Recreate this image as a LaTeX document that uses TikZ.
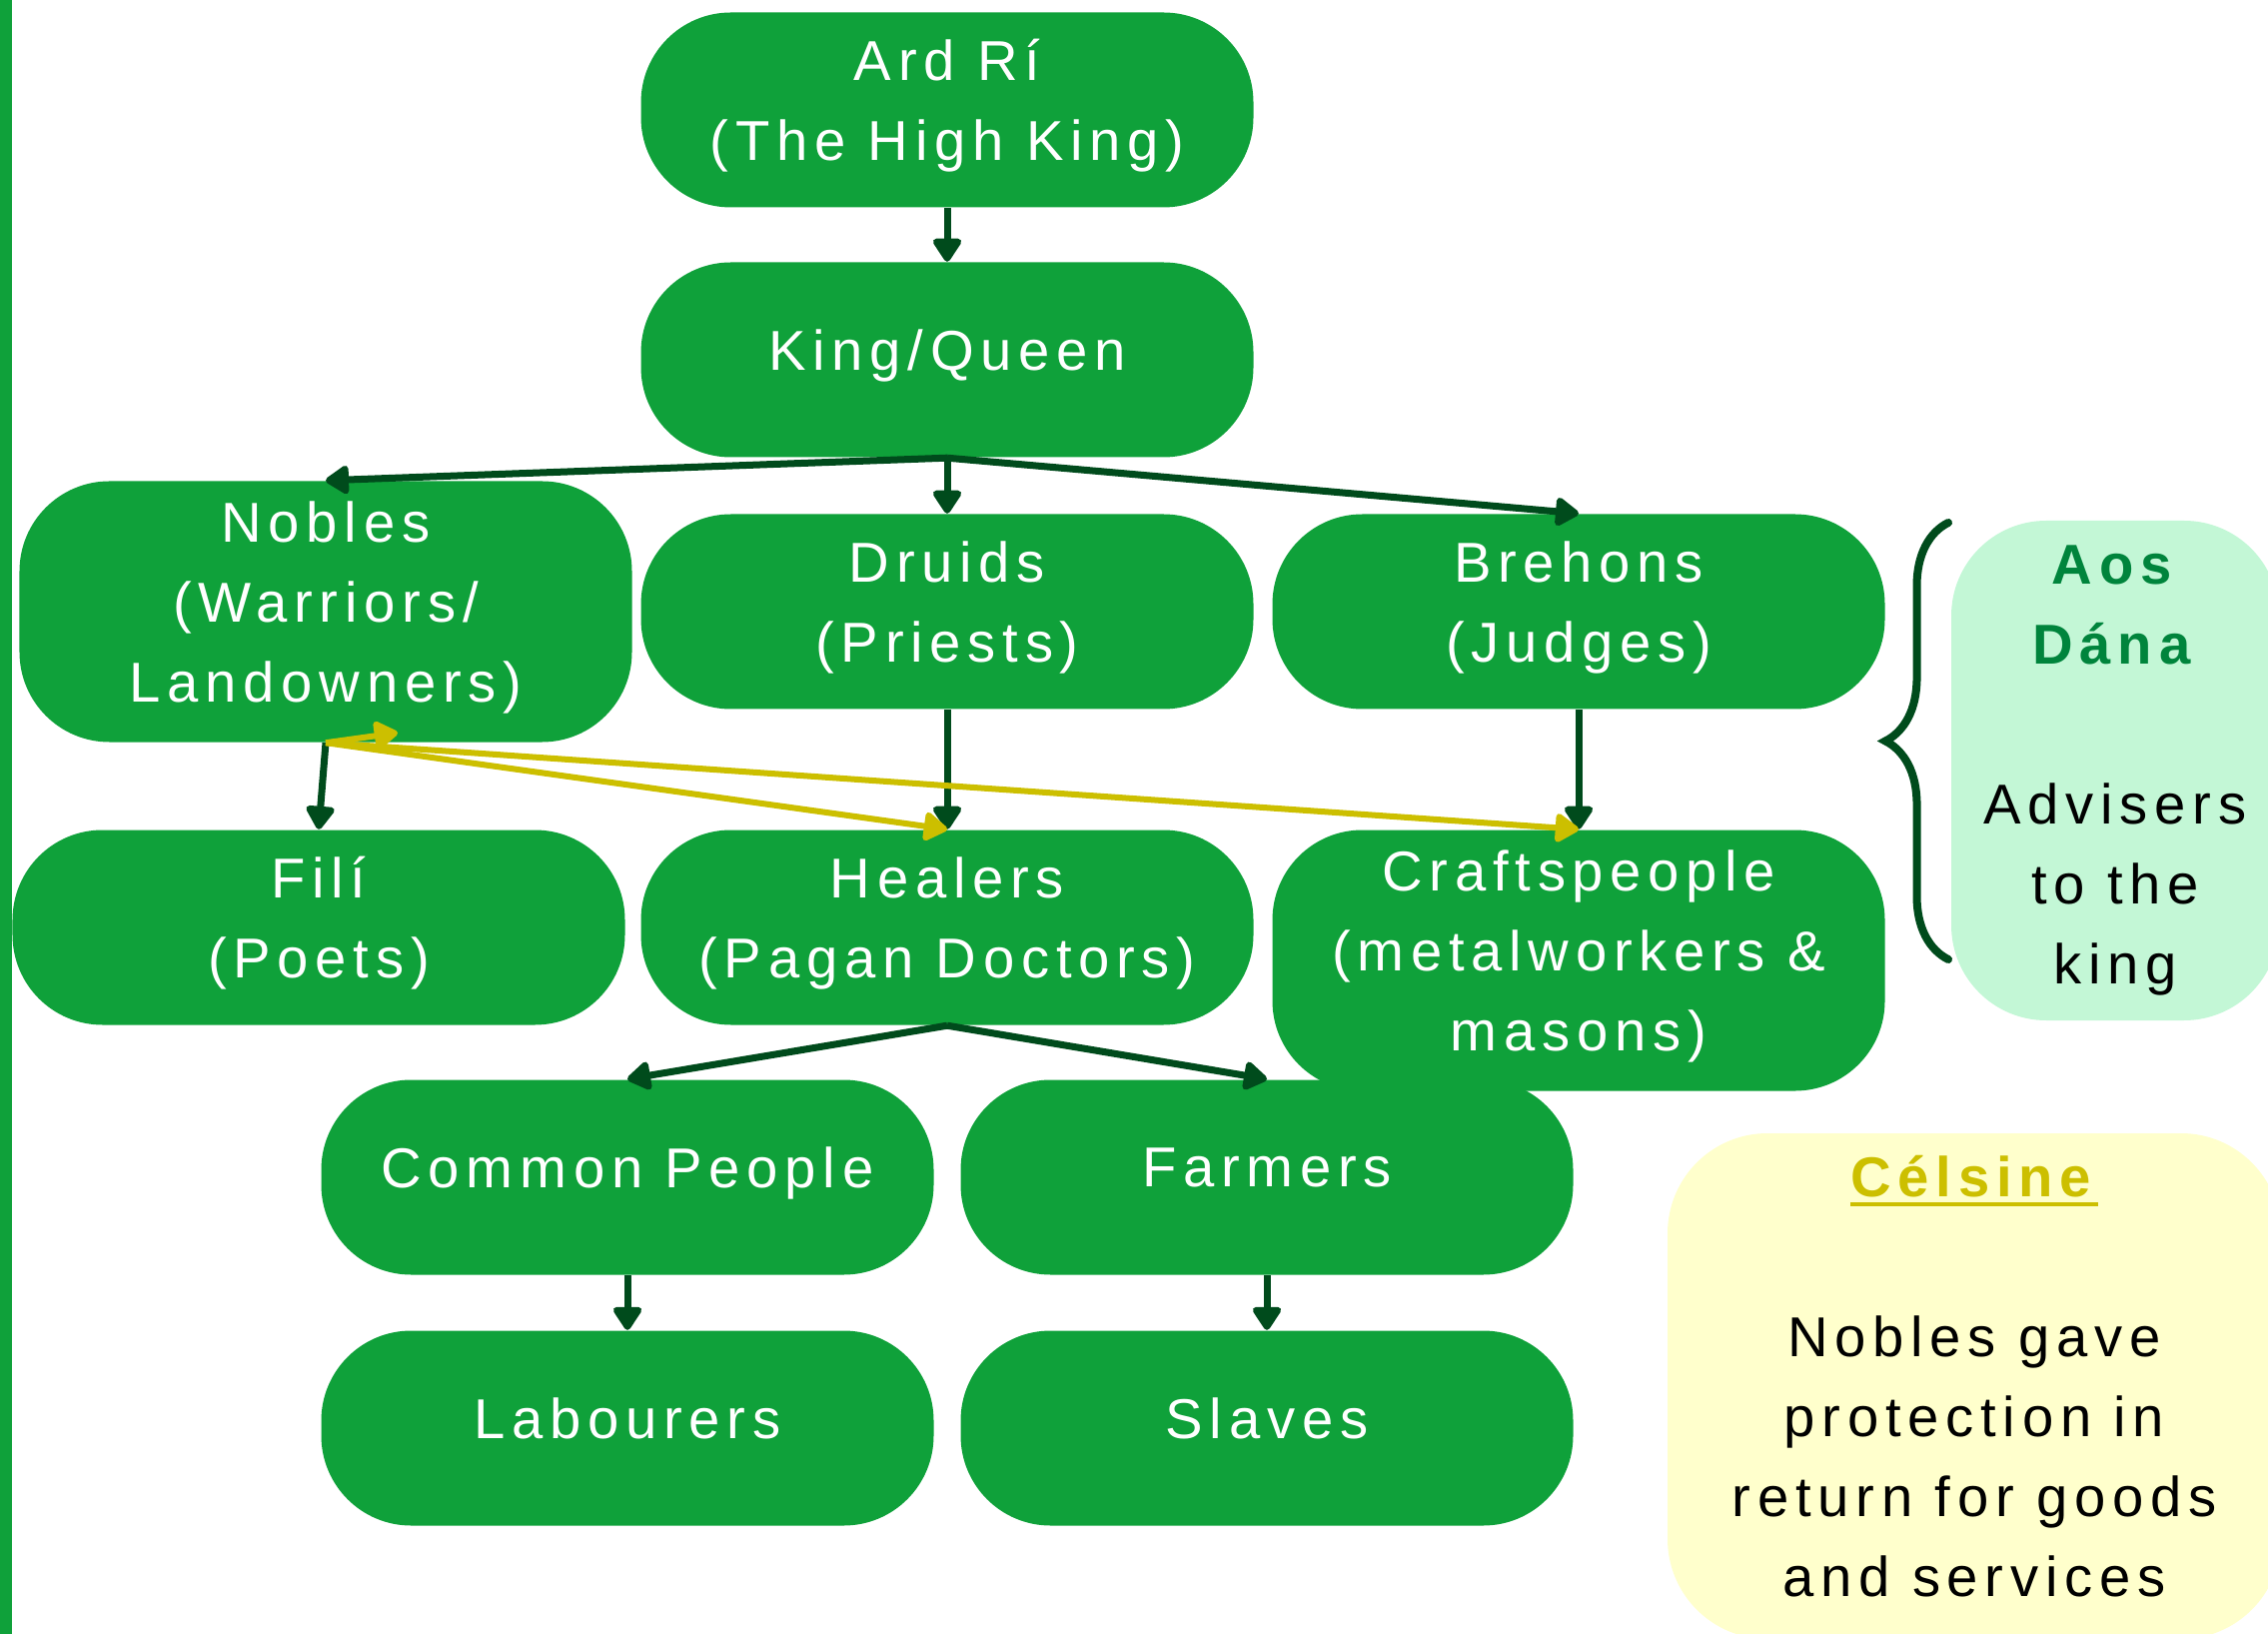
\documentclass[tikz,border=0pt]{standalone}
\usepackage{fontspec}
\setmainfont{Liberation Sans}[LetterSpace=12]
\usepackage{tikz}
\usetikzlibrary{positioning,arrows.meta,decorations.pathreplacing}
\definecolor{boxgreen}{HTML}{0FA13A}
\definecolor{linkgreen}{HTML}{004B1C}
\definecolor{linkyellow}{HTML}{CCBF00}
\definecolor{aosfill}{HTML}{C3F7D6}
\definecolor{aostext}{HTML}{00843C}
\definecolor{celfill}{HTML}{FFFFCC}
\newcommand{\thickul}[1]{\setbox0\hbox{#1}\rlap{\raisebox{-1mm}{\rule{\wd0}{0.4mm}}}\box0}
\newcommand{\deepstrut}{\rule[-2mm]{0pt}{2mm}}

\begin{document}
\begin{tikzpicture}[>={Triangle[length=2.6mm,width=3.2mm,round]},
    every node/.style={on grid,font=\fontsize{16}{22.8}\selectfont,align=center},
    rank/.style={fill=boxgreen,text=white,rounded corners=9mm,minimum width=6.13cm,minimum height=1.95cm,
      inner xsep=1.5mm,inner ysep=2mm,execute at end node=\deepstrut},
    link/.style={->,linkgreen,line width=0.7mm},
    ylink/.style={->,linkyellow,line width=0.6mm}]
    \useasboundingbox (0,0) rectangle (22.7,-16.35);
    \clip (0,0) rectangle (22.7,-16.35);
    \fill[boxgreen] (0,0) rectangle (0.12,-16.35);
    \node[rank] (ArdRi) at (9.48,-1.10) {Ard Rí\\(The High King)};
    \node[rank,below=2.5cm of ArdRi] (King) {King/Queen};
    \node[rank,below=2.52cm of King] (Druids) {Druids\\(Priests)};
    \node[rank,left=6.22cm of Druids] (Nobles) {Nobles\\(Warriors/\\Landowners)};
    \node[rank,right=6.32cm of Druids] (Brehons) {Brehons\\(Judges)};
    \node[rank,below=3.16cm of Druids] (Healers) {Healers\\(Pagan Doctors)};
    \node[rank,left=6.29cm of Healers] (Fili) {Filí\\(Poets)};
    \node[rank,anchor=north] (Crafts) at (Brehons |- Healers.north) {Craftspeople\\(metalworkers \&\\masons)};
    \node[rank,below left=2.5cm and 3.2cm of Healers] (Common) {Common People};
    \node[rank,right=6.4cm of Common] (Farmers) {Farmers};
    \node[rank,below=2.51cm of Common] (Labourers) {Labourers};
    \node[rank,below=2.51cm of Farmers] (Slaves) {Slaves};
    \node[fill=aosfill,rounded corners=9.5mm,minimum width=3.28cm,minimum height=5cm] (Aos) at (21.17,-7.71)
      {\textcolor{aostext}{\textbf{Aos}}\\\textcolor{aostext}{\textbf{Dána}}\\[22.8pt]Advisers\\to the\\king};
    \node[fill=celfill,rounded corners=1cm,minimum width=6.14cm,minimum height=5.06cm,execute at end node=\deepstrut] (Celsine) at (19.76,-13.87)
      {\textcolor{linkyellow}{\thickul{\textbf{Célsine}}}\\[22.8pt]Nobles gave\\protection in\\return for goods\\and services};
    \coordinate[above right=0.1cm and 0.72cm of Nobles.south] (NobTip);
    \draw[link] (ArdRi) -- (King);
    \draw[link] (King.south) -- (Nobles.north);
    \draw[link] (King.south) -- (Druids.north);
    \draw[link] (King.south) -- (Brehons.north);
    \draw[link] (Nobles.south) -- (Fili.north);
    \draw[link] (Druids.south) -- (Healers.north);
    \draw[link] (Brehons.south) -- (Crafts.north);
    \draw[link] (Healers.south) -- (Common.north);
    \draw[link] (Healers.south) -- (Farmers.north);
    \draw[link] (Common.south) -- (Labourers.north);
    \draw[link] (Farmers.south) -- (Slaves.north);
    \draw[ylink] (Nobles.south) -- (Healers.north);
    \draw[ylink] (Nobles.south) -- (Crafts.north);
    \draw[ylink] (Nobles.south) -- (NobTip);
    \draw[linkgreen,line width=0.8mm,line cap=round,decorate,decoration={brace,amplitude=6.3mm}] (19.50,-9.60) -- (19.50,-5.23);
  \end{tikzpicture}
\end{document}
